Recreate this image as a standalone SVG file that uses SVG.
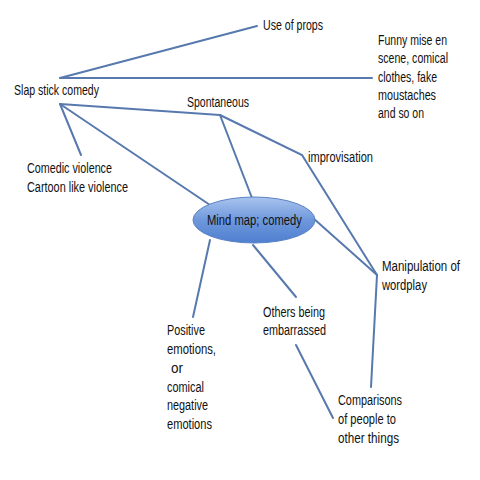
<svg xmlns="http://www.w3.org/2000/svg" width="480" height="480" viewBox="0 0 480 480">
<defs>
<linearGradient id="g" x1="0" y1="0" x2="0" y2="1">
<stop offset="0" stop-color="#a9c4ee"/>
<stop offset="0.5" stop-color="#6f98dc"/>
<stop offset="1" stop-color="#4f7fd0"/>
</linearGradient>
<style>
.c{stroke:#5779ad;stroke-width:2;fill:none;stroke-linecap:round}
text{font-family:"Liberation Sans",Arial,sans-serif;font-size:14px;fill:#111}
</style>
</defs>
<rect width="480" height="480" fill="#fff"/>
<g id="connectors">
<line class="c" x1="60" y1="78" x2="257" y2="26"/>
<line class="c" x1="60" y1="78" x2="372" y2="78"/>
<line class="c" x1="60" y1="104" x2="220" y2="115"/>
<line class="c" x1="60" y1="104" x2="81" y2="155"/>
<line class="c" x1="60" y1="104" x2="210" y2="205"/>
<line class="c" x1="220" y1="115" x2="252" y2="198"/>
<polyline class="c" points="220,115 302,155 377,275"/>
<line class="c" x1="313" y1="218" x2="377" y2="275"/>
<line class="c" x1="377" y1="275" x2="371" y2="387"/>
<line class="c" x1="210" y1="240" x2="193" y2="317"/>
<line class="c" x1="253" y1="245" x2="296" y2="297"/>
<line class="c" x1="296" y1="345" x2="333" y2="418"/>
</g>
<g id="center">
<ellipse cx="254" cy="220" rx="61" ry="23" fill="url(#g)" stroke="#5a82c4" stroke-width="1"/>
<text x="207" y="225" textLength="95" lengthAdjust="spacingAndGlyphs">Mind map; comedy</text>
</g>
<g id="slapstick"><text x="14" y="95" textLength="85" lengthAdjust="spacingAndGlyphs">Slap stick comedy</text></g>
<g id="spontaneous"><text x="187" y="107" textLength="62" lengthAdjust="spacingAndGlyphs">Spontaneous</text></g>
<g id="violence">
<text x="27" y="173" textLength="85" lengthAdjust="spacingAndGlyphs">Comedic violence</text>
<text x="27" y="192" textLength="101" lengthAdjust="spacingAndGlyphs">Cartoon like violence</text>
</g>
<g id="props"><text x="263" y="30" textLength="60" lengthAdjust="spacingAndGlyphs">Use of props</text></g>
<g id="mise">
<text x="378" y="45" textLength="69" lengthAdjust="spacingAndGlyphs">Funny mise en</text>
<text x="378" y="63" textLength="70" lengthAdjust="spacingAndGlyphs">scene, comical</text>
<text x="378" y="82" textLength="59" lengthAdjust="spacingAndGlyphs">clothes, fake</text>
<text x="378" y="100" textLength="58" lengthAdjust="spacingAndGlyphs">moustaches</text>
<text x="378" y="118" textLength="46" lengthAdjust="spacingAndGlyphs">and so on</text>
</g>
<g id="improvisation"><text x="308" y="162" textLength="65" lengthAdjust="spacingAndGlyphs">improvisation</text></g>
<g id="manipulation">
<text x="382" y="271" textLength="78" lengthAdjust="spacingAndGlyphs">Manipulation of</text>
<text x="382" y="290" textLength="45" lengthAdjust="spacingAndGlyphs">wordplay</text>
</g>
<g id="others">
<text x="263" y="317" textLength="62" lengthAdjust="spacingAndGlyphs">Others being</text>
<text x="263" y="335" textLength="63" lengthAdjust="spacingAndGlyphs">embarrassed</text>
</g>
<g id="positive">
<text x="167" y="335" textLength="38" lengthAdjust="spacingAndGlyphs">Positive</text>
<text x="167" y="354" textLength="49" lengthAdjust="spacingAndGlyphs">emotions,</text>
<text x="171" y="373" textLength="12" lengthAdjust="spacingAndGlyphs">or</text>
<text x="167" y="392" textLength="37" lengthAdjust="spacingAndGlyphs">comical</text>
<text x="167" y="410" textLength="41" lengthAdjust="spacingAndGlyphs">negative</text>
<text x="167" y="429" textLength="45" lengthAdjust="spacingAndGlyphs">emotions</text>
</g>
<g id="comparisons">
<text x="338" y="405" textLength="64" lengthAdjust="spacingAndGlyphs">Comparisons</text>
<text x="338" y="424" textLength="58" lengthAdjust="spacingAndGlyphs">of people to</text>
<text x="338" y="443" textLength="61" lengthAdjust="spacingAndGlyphs">other things</text>
</g>
</svg>
